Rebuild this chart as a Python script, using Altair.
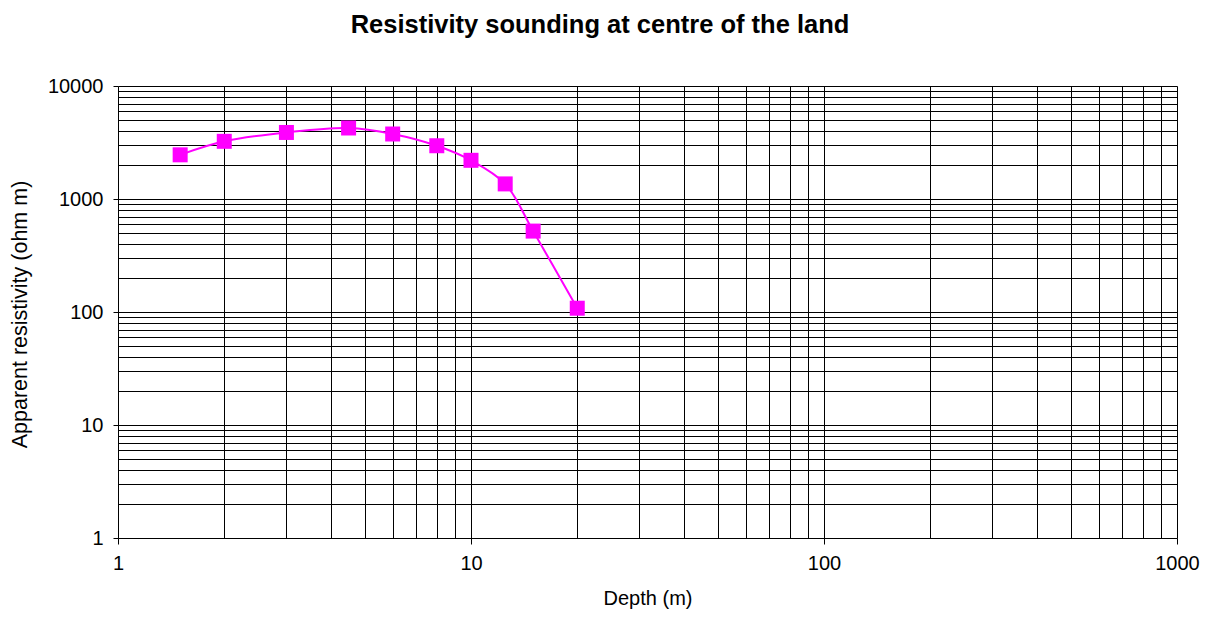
import altair as alt
import pandas as pd

depth = [1.5, 2, 3, 4.5, 6, 8, 10, 12.5, 15, 20]
resistivity = [2460, 3240, 3880, 4250, 3760, 2960, 2200, 1360, 520, 108]

x_grid = [m * 10 ** e for e in range(0, 3) for m in range(1, 10)] + [1000]
y_grid = [m * 10 ** e for e in range(0, 4) for m in range(1, 10)] + [10000]
x_major = [1, 10, 100, 1000]
y_major = [1, 10, 100, 1000, 10000]

df = pd.DataFrame({"depth": depth, "rho": resistivity})

FONT = "Liberation Sans"
W, H = 1059, 452


def major_test(vals):
    return "indexof([" + ",".join(str(v) for v in vals) + "], datum.value) >= 0"


x_axis = alt.Axis(
    values=x_grid,
    grid=True, gridColor="#000000", gridWidth=1, gridOpacity=1,
    domain=False,
    ticks=True, tickSize=6, tickColor="#000000", tickWidth=1,
    tickOpacity={"condition": {"test": major_test(x_major), "value": 1}, "value": 0},
    labelExpr=major_test(x_major) + " ? '' + datum.value : ''",
    labelOverlap=False, labelFlush=False, labelBound=False,
    labelFont=FONT, labelFontSize=20, labelColor="#000000", labelPadding=9,
    title="Depth (m)", titleFont=FONT, titleFontSize=20, titleFontWeight="normal",
    titleColor="#000000", titleX=W / 2, titleY=60, titleBaseline="middle",
    titleAlign="center",
)

y_axis = alt.Axis(
    values=y_grid,
    grid=True, gridColor="#000000", gridWidth=1, gridOpacity=1,
    domain=False,
    ticks=True, tickSize=5, tickColor="#000000", tickWidth=1,
    tickOpacity={"condition": {"test": major_test(y_major), "value": 1}, "value": 0},
    labelExpr=major_test(y_major) + " ? '' + datum.value : ''",
    labelOverlap=False, labelFlush=False, labelBound=False,
    labelFont=FONT, labelFontSize=20, labelColor="#000000", labelPadding=10,
    title="Apparent resistivity (ohm m)", titleFont=FONT, titleFontSize=21.5,
    titleFontWeight="normal", titleColor="#000000",
    titleX=-98, titleY=H / 2 + 2, titleAngle=270, titleBaseline="middle",
    titleAlign="center",
)

x_enc = alt.X("depth:Q", scale=alt.Scale(type="log", domain=[1, 1000], nice=False), axis=x_axis)
y_enc = alt.Y("rho:Q", scale=alt.Scale(type="log", domain=[1, 10000], nice=False), axis=y_axis)

line = alt.Chart(df).mark_line(
    color="#FF00FF", strokeWidth=2, interpolate="catmull-rom"
).encode(x=x_enc, y=y_enc)

points = alt.Chart(df).mark_point(
    shape="square", filled=True, color="#FF00FF", size=225, opacity=1
).encode(x="depth:Q", y="rho:Q")

chart = alt.layer(line, points).properties(
    width=W, height=H,
    autosize=alt.AutoSizeParams(type="none"),
    padding={"left": 110, "top": 78, "right": 30, "bottom": 94},
    title=alt.TitleParams(
        "Resistivity sounding at centre of the land",
        font=FONT, fontSize=25.5, fontWeight="bold", color="#000000",
        anchor="middle", frame="group", dx=-47.5, offset=38,
    ),
).configure_view(
    stroke="#808080", strokeWidth=2
).configure(background="#ffffff")

chart.save("out.html", embed_options={"renderer": "svg", "actions": False})
